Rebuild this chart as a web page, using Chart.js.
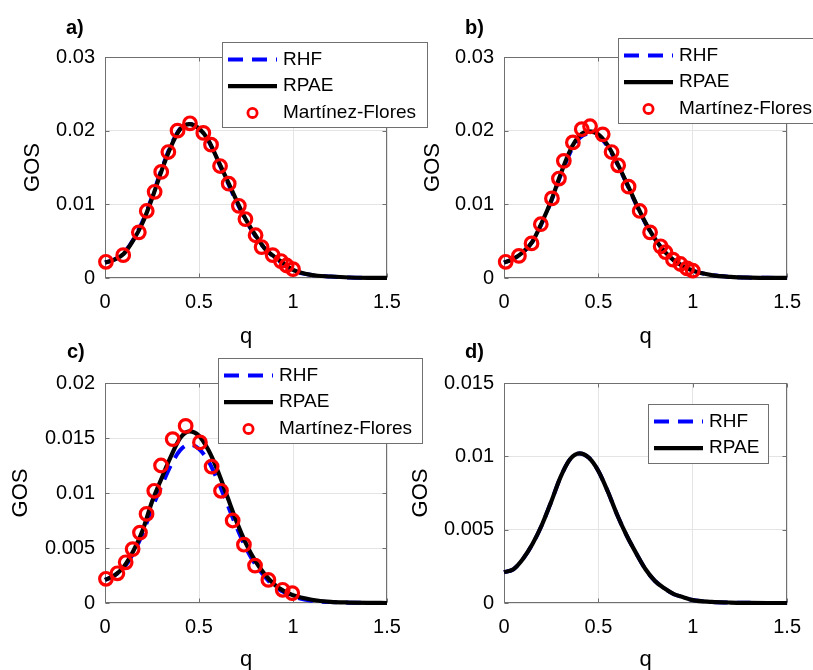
<!DOCTYPE html>
<html>
<head>
<meta charset="utf-8">
<script src="https://cdn.jsdelivr.net/npm/chart.js@4.4.0/dist/chart.umd.min.js"></script>
<style>
  body { margin: 0; background: #fff; }
  #report { position: relative; width: 813px; height: 670px; overflow: hidden; background: #fff; }
  #report canvas { position: absolute; }
</style>
</head>
<body>
<div id="report">
  <canvas id="Cnvs1" width="440" height="350" style="left:0px; top:0px;"></canvas>
  <canvas id="Cnvs2" width="408" height="350" style="left:405px; top:0px;"></canvas>
  <canvas id="Cnvs3" width="440" height="340" style="left:0px; top:330px;"></canvas>
  <canvas id="Cnvs4" width="408" height="340" style="left:405px; top:330px;"></canvas>
</div>
<script>
// q grid of the calculated curves
var q_calc = [0, 0.05, 0.1, 0.15, 0.2, 0.25, 0.3, 0.35, 0.4, 0.45, 0.5, 0.55, 0.6, 0.65, 0.7,
              0.75, 0.8, 0.85, 0.9, 0.95, 1.0, 1.1, 1.2, 1.3, 1.4, 1.5];

// a)
var a_rhf  = [0.0021, 0.0025, 0.0034, 0.0052, 0.0077, 0.0110, 0.0147, 0.0180, 0.0203, 0.0209, 0.0202, 0.0186, 0.0159,
              0.0131, 0.0103, 0.0078, 0.0057, 0.0040, 0.0028, 0.0019, 0.0010, 0.0004, 0.0002, 0.00006, 0.00002, 0.00001];
var a_rpae = [0.0021, 0.0025, 0.0033, 0.0051, 0.0075, 0.0108, 0.0145, 0.0178, 0.0202, 0.0209, 0.0203, 0.0187, 0.0160,
              0.0133, 0.0105, 0.0079, 0.0058, 0.0040, 0.0029, 0.0020, 0.0011, 0.0004, 0.0002, 0.00007, 0.00002, 0.00001];
var a_exp_q = [0.005, 0.097, 0.18, 0.222, 0.264, 0.299, 0.337, 0.386, 0.452, 0.523, 0.564, 0.612, 0.658, 0.712,
               0.747, 0.801, 0.833, 0.892, 0.936, 0.966, 1.0];
var a_exp   = [0.0022, 0.0031, 0.0062, 0.0091, 0.0117, 0.0144, 0.0171, 0.0200, 0.0210, 0.0197, 0.0181, 0.0152, 0.0128,
               0.0098, 0.0080, 0.0058, 0.0042, 0.0031, 0.0023, 0.0017, 0.0012];

// b)
var b_rhf  = [0.0021, 0.0026, 0.0035, 0.0049, 0.0074, 0.0104, 0.0139, 0.0170, 0.0190, 0.0196, 0.0193, 0.0178, 0.0155,
              0.0128, 0.0100, 0.0074, 0.0053, 0.0036, 0.0024, 0.0016, 0.0010, 0.0004, 0.00015, 0.00005, 0.00002, 0.00001];
var b_rpae = [0.0021, 0.0026, 0.0035, 0.0049, 0.0075, 0.0105, 0.0141, 0.0173, 0.0193, 0.0199, 0.0195, 0.0180, 0.0156,
              0.0129, 0.0101, 0.0075, 0.0053, 0.0036, 0.0024, 0.0016, 0.0010, 0.0004, 0.00015, 0.00005, 0.00002, 0.00001];
var b_exp_q = [0.009, 0.079, 0.146, 0.195, 0.254, 0.291, 0.317, 0.365, 0.412, 0.456, 0.523, 0.570, 0.605, 0.660,
               0.719, 0.774, 0.830, 0.856, 0.895, 0.935, 0.970, 1.0];
var b_exp   = [0.0022, 0.0030, 0.0047, 0.0073, 0.0108, 0.0135, 0.0159, 0.0184, 0.0202, 0.0206, 0.0195, 0.0171, 0.0153,
               0.0124, 0.0091, 0.0062, 0.0043, 0.0035, 0.0025, 0.0019, 0.0013, 0.0010];

// c)
var c_rhf  = [0.0021, 0.0025, 0.0032, 0.0045, 0.0063, 0.0086, 0.0106, 0.0125, 0.0139, 0.0144, 0.0140, 0.0129, 0.0111,
              0.0090, 0.0069, 0.0050, 0.0035, 0.0024, 0.0015, 0.0010, 0.0006, 0.0002, 0.00008, 0.00003, 0.00001, 0];
var c_rpae = [0.0021, 0.0025, 0.0033, 0.0047, 0.0066, 0.0092, 0.0113, 0.0133, 0.0150, 0.0156, 0.0152, 0.0139, 0.0120,
              0.0097, 0.0074, 0.0054, 0.0038, 0.0026, 0.0017, 0.0011, 0.0007, 0.0003, 0.0001, 0.00004, 0.00001, 0];
var c_exp_q = [0.005, 0.066, 0.110, 0.147, 0.186, 0.221, 0.262, 0.298, 0.360, 0.429, 0.505, 0.567, 0.617, 0.679,
               0.739, 0.798, 0.869, 0.945, 0.996];
var c_exp   = [0.0022, 0.0027, 0.0037, 0.0049, 0.0064, 0.0081, 0.0102, 0.0125, 0.0149, 0.0161, 0.0146, 0.0124, 0.0102,
               0.0075, 0.0053, 0.0034, 0.0021, 0.0012, 0.0009];

// d)
var d_rhf  = [0.0021, 0.0023, 0.0030, 0.0040, 0.0053, 0.0069, 0.0086, 0.0098, 0.0102, 0.0099, 0.0090, 0.0076, 0.0060,
              0.0046, 0.0034, 0.0023, 0.0015, 0.0010, 0.0006, 0.0004, 0.0002, 0.00008, 0.00003, 0.00001, 0, 0];
var d_rpae = [0.0021, 0.0023, 0.0030, 0.0040, 0.0053, 0.0069, 0.0086, 0.0098, 0.0102, 0.0099, 0.0090, 0.0076, 0.0060,
              0.0046, 0.0034, 0.0023, 0.0015, 0.0010, 0.0006, 0.0004, 0.0002, 0.00008, 0.00003, 0.00001, 0, 0];

var q_ticks = [0, 0.5, 1, 1.5];

var FONT = "'Liberation Sans', Arial, Helvetica, sans-serif";
Chart.defaults.font.family = FONT;
Chart.defaults.color = '#000';

function pts(xs, ys) {
  return xs.map(function(x, i) { return {x: x, y: ys[i]}; });
}

// MATLAB-like box with inward ticks, panel letter and legend
var matlabAxes = {
  id: 'matlabAxes',
  beforeDatasetsDraw: function(chart) {
    var a = chart.chartArea, ctx = chart.ctx;
    var l = Math.round(a.left) + 0.5, r = Math.round(a.right) - 0.5;
    var t = Math.round(a.top) + 0.5, b = Math.round(a.bottom) - 0.5;
    ctx.save();
    ctx.strokeStyle = '#707070';
    ctx.lineWidth = 1;
    ctx.strokeRect(l, t, r - l, b - t);
    ctx.beginPath();
    chart.scales.x.ticks.forEach(function(tk) {
      var px = Math.round(chart.scales.x.getPixelForValue(tk.value)) + 0.5;
      ctx.moveTo(px, b); ctx.lineTo(px, b - 4);
      ctx.moveTo(px, t); ctx.lineTo(px, t + 4);
    });
    chart.scales.y.ticks.forEach(function(tk) {
      var py = Math.round(chart.scales.y.getPixelForValue(tk.value)) + 0.5;
      ctx.moveTo(l, py); ctx.lineTo(l + 4, py);
      ctx.moveTo(r, py); ctx.lineTo(r - 4, py);
    });
    ctx.stroke();
    ctx.restore();
  },
  afterDraw: function(chart, args, opts) {
    var ctx = chart.ctx;
    ctx.save();
    ctx.font = 'bold 20px ' + FONT;
    ctx.fillStyle = '#000';
    ctx.textBaseline = 'middle';
    ctx.fillText(opts.letter, opts.letterX, opts.letterY);

    var lg = opts.legend;
    ctx.fillStyle = '#fff';
    ctx.fillRect(lg.x, lg.y, lg.w, lg.h);
    ctx.strokeStyle = '#707070';
    ctx.lineWidth = 1;
    ctx.strokeRect(lg.x + 0.5, lg.y + 0.5, lg.w - 1, lg.h - 1);
    ctx.font = '19px ' + FONT;
    chart.data.datasets.forEach(function(ds, i) {
      var cy = lg.y + 17.5 + i * 26.7;
      var x0 = lg.x + 6, x1 = lg.x + 55;
      if (ds.showLine) {
        ctx.strokeStyle = ds.borderColor;
        ctx.lineWidth = ds.borderWidth;
        ctx.setLineDash(ds.borderDash || []);
        ctx.beginPath();
        ctx.moveTo(x0, cy); ctx.lineTo(x1, cy);
        ctx.stroke();
        ctx.setLineDash([]);
      } else {
        ctx.strokeStyle = ds.pointBorderColor;
        ctx.lineWidth = 2.8;
        ctx.beginPath();
        ctx.arc((x0 + x1) / 2, cy, 4.6, 0, Math.PI * 2);
        ctx.stroke();
      }
      ctx.fillStyle = '#000';
      ctx.fillText(ds.label, lg.x + 61, cy);
    });
    ctx.restore();
  }
};

function makePanel(id, p) {
  var datasets = [
    { label: 'RHF', data: pts(q_calc, p.rhf), showLine: true, pointRadius: 0,
      borderColor: '#0000ff', borderWidth: 4, borderDash: [15, 9], cubicInterpolationMode: 'monotone',
      clip: false, order: 2 },
    { label: 'RPAE', data: pts(q_calc, p.rpae), showLine: true, pointRadius: 0,
      borderColor: '#000000', borderWidth: 4.2, cubicInterpolationMode: 'monotone',
      clip: false, order: 1 }
  ];
  if (p.exp) {
    datasets.push({ label: 'Martínez-Flores', data: pts(p.expq, p.exp), showLine: false,
      pointRadius: 6.3, pointBorderWidth: 3.2, pointBorderColor: '#ff0000', pointBackgroundColor: 'rgba(0,0,0,0)',
      clip: false, order: 0 });
  }
  var tickFont = { size: 20, lineHeight: 1.2 };
  var titleFont = { size: 22, lineHeight: 1.2 };
  return new Chart(document.getElementById(id).getContext('2d'), {
    type: 'scatter',
    data: { datasets: datasets },
    options: {
      responsive: false,
      animation: false,
      devicePixelRatio: 1,
      layout: { autoPadding: false, padding: { left: 0, top: p.top, right: p.right, bottom: 0 } },
      plugins: {
        legend: { display: false },
        tooltip: { enabled: false },
        matlabAxes: { letter: p.letter, letterX: p.letterX, letterY: p.letterY, legend: p.legend }
      },
      scales: {
        x: {
          type: 'linear', min: 0, max: 1.5,
          afterBuildTicks: function(s) { s.ticks = q_ticks.map(function(v) { return {value: v}; }); },
          ticks: { padding: 12, font: tickFont, color: '#000', maxRotation: 0,
                   callback: function(v) { return String(v); } },
          grid: { color: '#e4e4e4', drawTicks: false },
          border: { display: false },
          title: { display: true, text: 'q', font: titleFont, color: '#000', padding: { top: 0, bottom: p.xTitlePad } },
          afterFit: function(s) { s.height = p.xH; }
        },
        y: {
          type: 'linear', min: 0, max: p.yMax,
          ticks: { stepSize: p.yStep, padding: 10, font: tickFont, color: '#000',
                   callback: function(v) { return String(+v.toFixed(4)); } },
          grid: { color: '#e4e4e4', drawTicks: false },
          border: { display: false },
          title: { display: true, text: 'GOS', font: titleFont, color: '#000', padding: { top: p.yTitlePad, bottom: 0 } },
          afterFit: function(s) { s.width = p.yW; }
        }
      }
    },
    plugins: [matlabAxes]
  });
}

makePanel('Cnvs1', {
  rhf: a_rhf, rpae: a_rpae, expq: a_exp_q, exp: a_exp,
  yMax: 0.03, yStep: 0.01,
  top: 57, right: 53, yW: 105, xH: 72, xTitlePad: 0, yTitlePad: 20,
  letter: 'a)', letterX: 66, letterY: 28,
  legend: { x: 222, y: 42, w: 206, h: 86 }
});
makePanel('Cnvs2', {
  rhf: b_rhf, rpae: b_rpae, expq: b_exp_q, exp: b_exp,
  yMax: 0.03, yStep: 0.01,
  top: 57, right: 24, yW: 99, xH: 72, xTitlePad: 0, yTitlePad: 14.5,
  letter: 'b)', letterX: 60, letterY: 28,
  legend: { x: 213, y: 38, w: 230, h: 86 }
});
makePanel('Cnvs3', {
  rhf: c_rhf, rpae: c_rpae, expq: c_exp_q, exp: c_exp,
  yMax: 0.02, yStep: 0.005,
  top: 53, right: 53, yW: 105, xH: 67, xTitlePad: -3, yTitlePad: 8,
  letter: 'c)', letterX: 67, letterY: 22,
  legend: { x: 218, y: 28, w: 205, h: 86 }
});
makePanel('Cnvs4', {
  rhf: d_rhf, rpae: d_rpae,
  yMax: 0.015, yStep: 0.005,
  top: 53, right: 24, yW: 99, xH: 67, xTitlePad: -3, yTitlePad: 3,
  letter: 'd)', letterX: 60, letterY: 22,
  legend: { x: 243, y: 74, w: 121, h: 60 }
});
</script>
</body>
</html>
